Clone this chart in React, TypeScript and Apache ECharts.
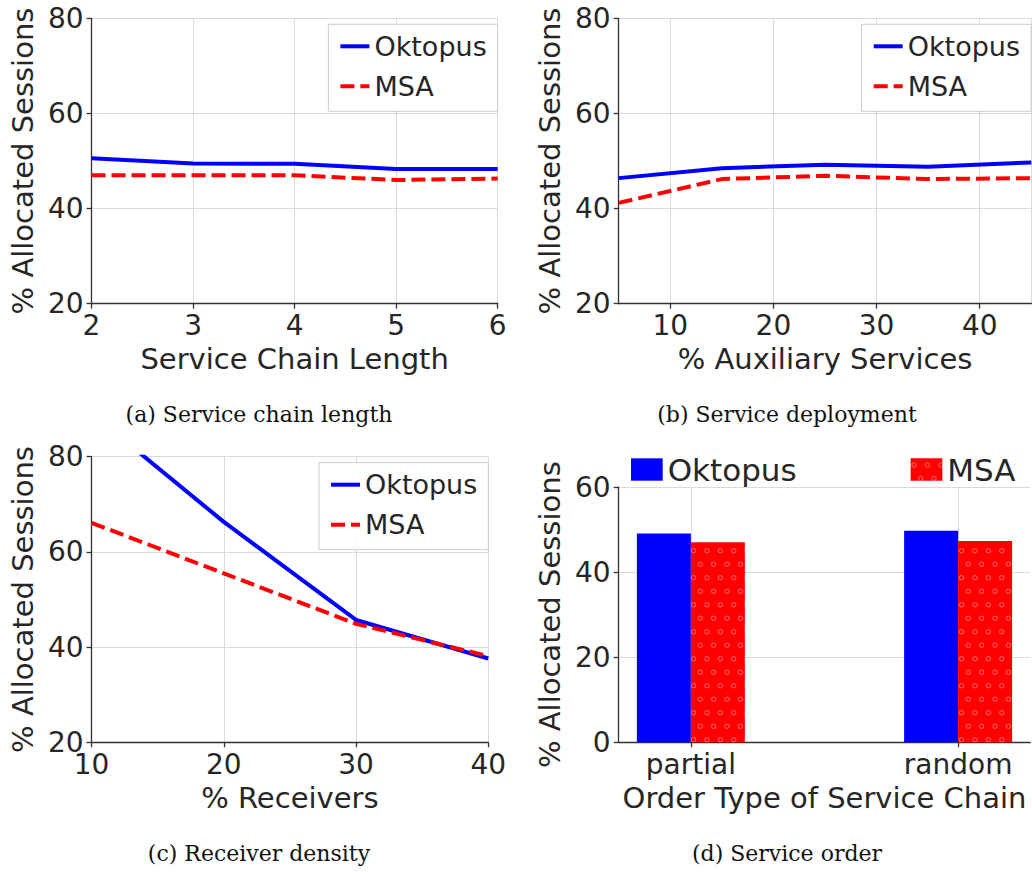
import React, { useEffect, useRef } from "react";
import * as echarts from "echarts";

// ---------- data ----------
const seriesNames = ["Oktopus", "MSA"];

const chainLengths = [2, 3, 4, 5, 6];
const chainOktopus = [50.6, 49.5, 49.4, 48.3, 48.3];
const chainMSA = [47.0, 47.0, 47.0, 46.0, 46.3];

const auxServices = [5, 15, 25, 35, 45];
const auxOktopus = [46.4, 48.5, 49.2, 48.8, 49.7];
const auxMSA = [41.2, 46.2, 46.9, 46.2, 46.4];

const receivers = [10, 20, 30, 40];
const recvOktopus = [89.1, 66.3, 45.7, 37.6];
const recvMSA = [66.1, 55.5, 44.9, 38.1];

const orderTypes = ["partial", "random"];
const orderPositions = [0, 1];
const orderOktopus = [49.1, 49.7];
const orderMSA = [47.0, 47.3];

const yTitle = "% Allocated Sessions";
const xTitles = [
  "Service Chain Length",
  "% Auxiliary Services",
  "% Receivers",
  "Order Type of Service Chain",
];
const captions = [
  "(a) Service chain length",
  "(b) Service deployment",
  "(c) Receiver density",
  "(d) Service order",
];

// ---------- styles ----------
const FONT = "'DejaVu Sans', sans-serif";
const SERIF = "'DejaVu Serif', serif";
const TEXT = "#262626";
const AXIS = "#333333";
const GRIDC = "#dadada";
const BLUE = "#0000ff";
const RED = "#ff0000";

const pair = (xs: number[], ys: number[]) => xs.map((x, i) => [x, ys[i]]);

const patternSvg =
  "<svg xmlns='http://www.w3.org/2000/svg' width='13.4' height='27'>" +
  "<rect width='13.4' height='27' fill='#ff0000'/>" +
  "<circle cx='3.35' cy='6.75' r='2.2' fill='none' stroke='#ff7a7a' stroke-width='0.9'/>" +
  "<circle cx='10.05' cy='20.25' r='2.2' fill='none' stroke='#ff7a7a' stroke-width='0.9'/>" +
  "</svg>";
const msaPattern: any = {
  image: "data:image/svg+xml;charset=utf-8," + encodeURIComponent(patternSvg),
  repeat: "repeat",
  imageWidth: 13.4,
  imageHeight: 27,
};

function axisBase(extra: any) {
  return {
    nameLocation: "middle",
    nameTextStyle: { fontSize: 29, color: TEXT, fontFamily: FONT },
    axisLine: { show: true, onZero: false, lineStyle: { color: AXIS, width: 1.3 } },
    axisTick: { show: true, length: 5, lineStyle: { color: AXIS, width: 1.3 } },
    axisLabel: { fontSize: 28, color: TEXT, fontFamily: FONT, margin: 8 },
    splitLine: { show: true, lineStyle: { color: GRIDC, width: 1 } },
    ...extra,
  };
}

function captionGraphic(text: string, x: number, y: number) {
  return [
    {
      type: "text",
      x,
      y,
      style: {
        text,
        fontFamily: SERIF,
        fontSize: 22,
        fill: "#111111",
        align: "center",
        verticalAlign: "middle",
      },
    },
  ];
}

function lineLegend(right: number, top: number) {
  return {
    data: seriesNames,
    orient: "vertical",
    right,
    top,
    itemWidth: 29,
    itemHeight: 14,
    itemGap: 10,
    padding: [7, 11, 10, 10],
    backgroundColor: "#ffffff",
    borderColor: "#cccccc",
    borderWidth: 1,
    borderRadius: 0,
    selectedMode: false,
    itemStyle: { color: "rgba(0,0,0,0)", borderWidth: 0, opacity: 0 },
    lineStyle: { width: 4 },
    textStyle: { fontSize: 27, lineHeight: 30, color: TEXT, fontFamily: FONT },
  };
}

function lineSeries(xs: number[], ok: number[], msa: number[]) {
  return [
    {
      type: "line",
      name: seriesNames[0],
      data: pair(xs, ok),
      symbol: "none",
      lineStyle: { color: BLUE, width: 4 },
      itemStyle: { color: BLUE },
      z: 3,
    },
    {
      type: "line",
      name: seriesNames[1],
      data: pair(xs, msa),
      symbol: "none",
      lineStyle: { color: RED, width: 4, type: [14, 6] },
      itemStyle: { color: RED },
      z: 4,
    },
  ];
}

function optionA() {
  return {
    animation: false,
    textStyle: { fontFamily: FONT },
    grid: { left: 90.7, right: 18.3, top: 18.3, bottom: 132.3 },
    xAxis: axisBase({ type: "value", min: 2, max: 6, interval: 1, name: xTitles[0], nameGap: 40 }),
    yAxis: axisBase({ type: "value", min: 20, max: 80, interval: 20, name: yTitle, nameGap: 53 }),
    legend: lineLegend(18.3, 24.3),
    series: lineSeries(chainLengths, chainOktopus, chainMSA),
    graphic: captionGraphic(captions[0], 259, 414),
  };
}

function optionB() {
  const xa = axisBase({ type: "value", min: 5, max: 45, name: xTitles[1], nameGap: 40 });
  xa.axisLabel = { ...xa.axisLabel, showMinLabel: false, showMaxLabel: false };
  return {
    animation: false,
    textStyle: { fontFamily: FONT },
    grid: { left: 102.7, right: 0.7, top: 18.3, bottom: 132.3 },
    xAxis: xa,
    yAxis: axisBase({ type: "value", min: 20, max: 80, interval: 20, name: yTitle, nameGap: 53 }),
    legend: lineLegend(1, 24.3),
    series: lineSeries(auxServices, auxOktopus, auxMSA),
    graphic: captionGraphic(captions[1], 271, 414),
  };
}

function optionC() {
  return {
    animation: false,
    textStyle: { fontFamily: FONT },
    grid: { left: 90.7, right: 27.7, top: 20.7, bottom: 129.7 },
    xAxis: axisBase({ type: "value", min: 10, max: 40, interval: 10, name: xTitles[2], nameGap: 40 }),
    yAxis: axisBase({ type: "value", min: 20, max: 80, interval: 20, name: yTitle, nameGap: 53 }),
    legend: lineLegend(27.7, 26.7),
    series: lineSeries(receivers, recvOktopus, recvMSA),
    graphic: captionGraphic(captions[2], 259, 417),
  };
}

function optionD() {
  const xa = axisBase({ type: "value", min: -0.27, max: 1.27, name: xTitles[3], nameGap: 40 });
  xa.axisLabel = {
    ...xa.axisLabel,
    customValues: orderPositions,
    formatter: (v: number) => orderTypes[Math.round(v)],
  };
  xa.axisTick = { ...xa.axisTick, customValues: orderPositions };
  return {
    animation: false,
    textStyle: { fontFamily: FONT },
    grid: { left: 102.7, right: 1.7, top: 51, bottom: 129.7 },
    xAxis: xa,
    yAxis: axisBase({ type: "value", min: 0, max: 60, interval: 20, name: yTitle, nameGap: 53 }),
    legend: {
      data: seriesNames,
      orient: "horizontal",
      left: 115,
      top: 17.5,
      itemWidth: 31.7,
      itemHeight: 22.4,
      itemGap: 114,
      padding: 0,
      icon: "rect",
      selectedMode: false,
      textStyle: { fontSize: 31, lineHeight: 32, color: TEXT, fontFamily: FONT },
    },
    series: [
      {
        type: "bar",
        name: seriesNames[0],
        data: pair(orderPositions, orderOktopus),
        barWidth: 54,
        barGap: "0%",
        itemStyle: { color: BLUE },
      },
      {
        type: "bar",
        name: seriesNames[1],
        data: pair(orderPositions, orderMSA),
        barWidth: 54,
        barGap: "0%",
        itemStyle: { color: msaPattern },
      },
    ],
    graphic: captionGraphic(captions[3], 271, 417),
  };
}

export default function App() {
  const refA = useRef<HTMLDivElement>(null);
  const refB = useRef<HTMLDivElement>(null);
  const refC = useRef<HTMLDivElement>(null);
  const refD = useRef<HTMLDivElement>(null);

  useEffect(() => {
    const pairs: [HTMLDivElement | null, any][] = [
      [refA.current, optionA()],
      [refB.current, optionB()],
      [refC.current, optionC()],
      [refD.current, optionD()],
    ];
    const charts = pairs.map(([el, opt]) => {
      const c = echarts.init(el as HTMLDivElement, undefined, { renderer: "svg" });
      c.setOption(opt);
      return c;
    });
    return () => charts.forEach((c) => c.dispose());
  }, []);

  const box = (left: number, top: number): React.CSSProperties => ({
    position: "absolute",
    left,
    top,
    width: 516,
    height: 436,
  });

  return (
    <div style={{ position: "absolute", left: 0, top: 0, width: 1032, height: 872, background: "#fff" }}>
      <div ref={refA} style={box(0, 0)} />
      <div ref={refB} style={box(516, 0)} />
      <div ref={refC} style={box(0, 436)} />
      <div ref={refD} style={box(516, 436)} />
    </div>
  );
}
